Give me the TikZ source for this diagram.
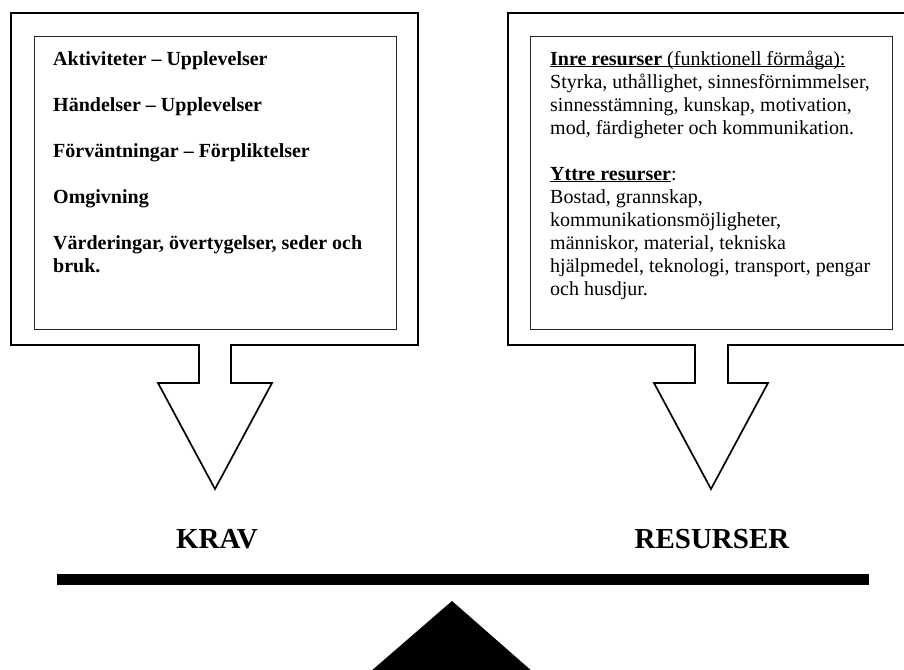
\documentclass[tikz,border=0pt]{standalone}
\usepackage{fontspec}
\setmainfont{Liberation Serif}
\newcommand\ulline[1]{\underline{\smash{#1}}}
\begin{document}
\begin{tikzpicture}[x=1pt,y=-1pt,
  outer/.style={draw=black,line width=1.7pt,fill=white,line join=miter},
  innerbox/.style={draw=black!85,line width=1.4pt,inner sep=0pt,anchor=north west},
  boxtext/.style={inner sep=0pt,anchor=base west,align=left,font=\fontsize{20}{23}\selectfont},
  label/.style={inner sep=0pt,anchor=base,font=\fontsize{29}{33}\selectfont\bfseries}]
\useasboundingbox (0,0) rectangle (904,669);
% left outer box with block arrow
\path[outer] (11,13) -- (418,13) -- (418,345) -- (231,345) -- (231,383) -- (272,383)
  -- (215,489) -- (158,383) -- (199,383) -- (199,345) -- (11,345) -- cycle;
% right outer box with block arrow
\path[outer] (508,13) -- (915,13) -- (915,345) -- (728,345) -- (728,383) -- (768,383)
  -- (711,489) -- (654,383) -- (695,383) -- (695,345) -- (508,345) -- cycle;
\node[innerbox,minimum width=362pt,minimum height=293pt] (kravbox) at (34,36) {};
\node[innerbox,minimum width=362pt,minimum height=293pt] (resbox) at (530,36) {};
% anchor = baseline of the last line
\node[boxtext,font=\fontsize{20}{23}\selectfont\bfseries] (kravtext) at (53,272)
 {Aktiviteter – Upplevelser\\[23pt]
  Händelser – Upplevelser\\[23pt]
  Förväntningar – Förpliktelser\\[23pt]
  Omgivning\\[23pt]
  Värderingar, övertygelser, seder och\\
  bruk.};
\node[boxtext] (restext) at (550,295)
 {\ulline{\textbf{Inre resurser} (funktionell förmåga):}\\
  Styrka, uthållighet, sinnesförnimmelser,\\
  sinnesstämning, kunskap, motivation,\\
  mod, färdigheter och kommunikation.\\[23pt]
  \ulline{\textbf{Yttre resurser}}:\\
  Bostad, grannskap,\\
  kommunikationsmöjligheter,\\
  människor, material, tekniska\\
  hjälpmedel, teknologi, transport, pengar\\
  och husdjur.};
\node[label] (krav) at (217,548) {KRAV};
\node[label] (resurser) at (712,548) {RESURSER};
% balance beam and fulcrum
\fill[black] (57,574) rectangle (869,585);
\fill[black] (452,601) -- (533,672) -- (370,672) -- cycle;
\end{tikzpicture}
\end{document}
